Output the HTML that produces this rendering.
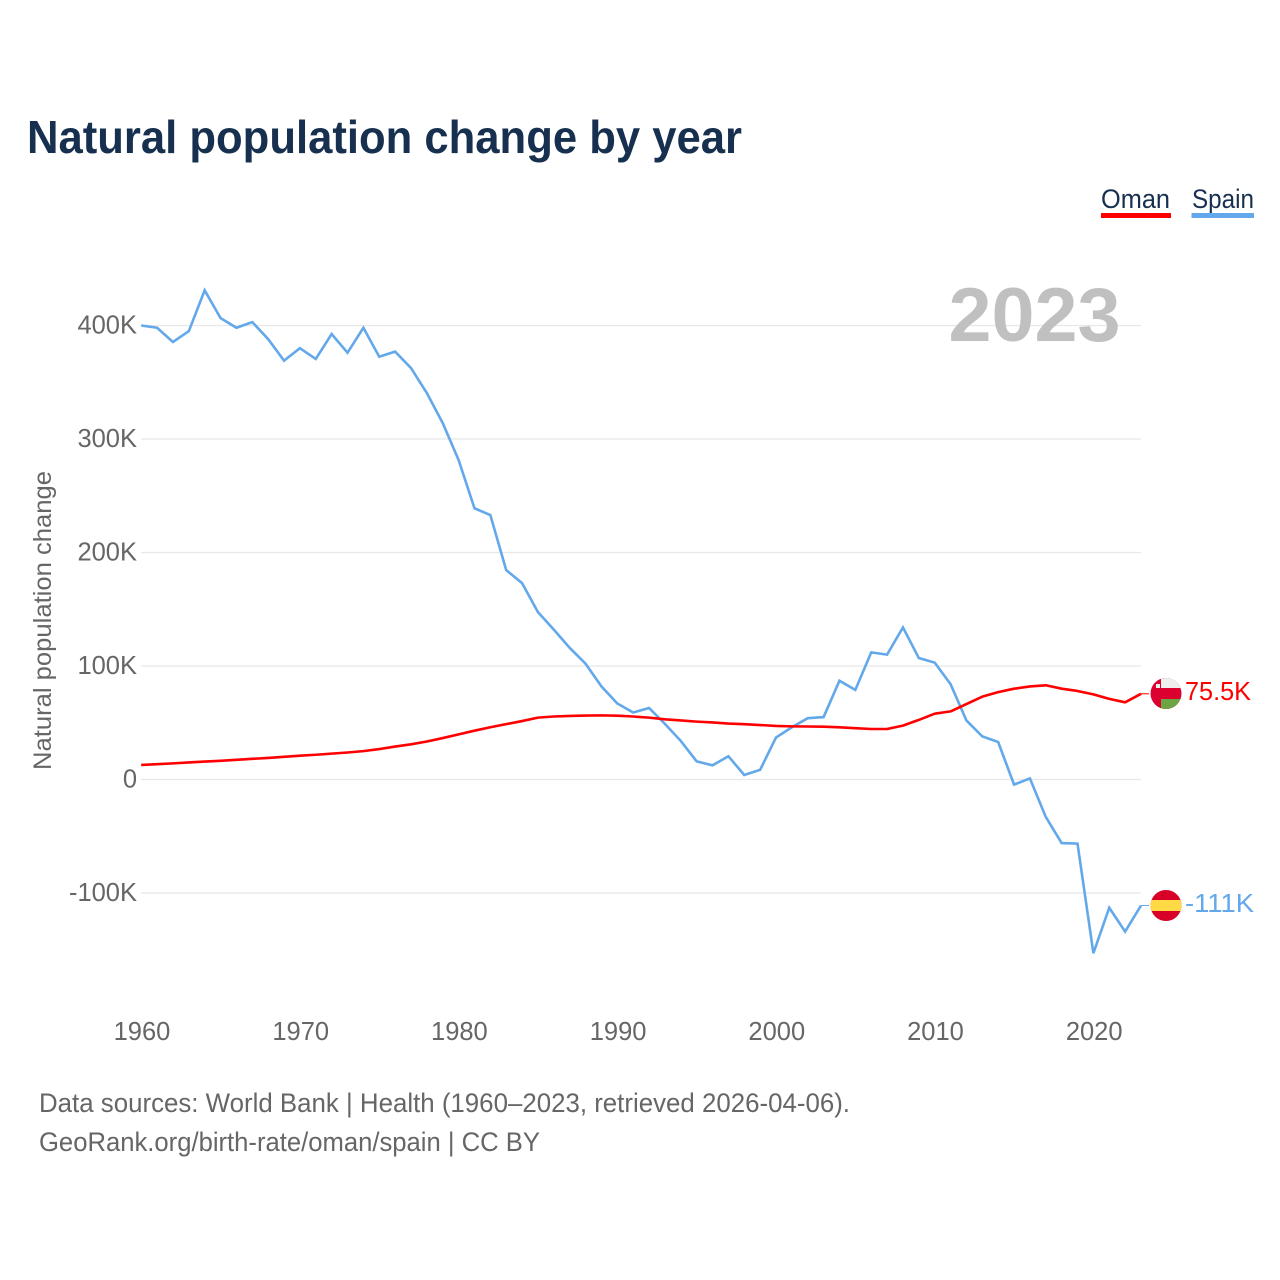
<!DOCTYPE html>
<html lang="en">
<head>
<meta charset="utf-8">
<title>Natural population change by year</title>
<style>
html,body{margin:0;padding:0;background:#fff;}
svg{display:block;font-family:"Liberation Sans",sans-serif;}
</style>
</head>
<body>
<svg id="chart" xmlns="http://www.w3.org/2000/svg" width="1280" height="1280" viewBox="0 0 1280 1280">
  <rect width="1280" height="1280" fill="#fff"/>
  <text x="27" y="153" font-size="46" font-weight="700" fill="#17304f" textLength="715" lengthAdjust="spacingAndGlyphs">Natural population change by year</text>
  <g>
    <g>
      <text x="1101" y="208" font-size="27" fill="#17304f" textLength="69" lengthAdjust="spacingAndGlyphs">Oman</text>
      <rect x="1101" y="213" width="70" height="5" fill="#ff0000"/>
    </g>
    <g>
      <text x="1192" y="208" font-size="27" fill="#17304f" textLength="62" lengthAdjust="spacingAndGlyphs">Spain</text>
      <rect x="1191.500" y="213" width="62.500" height="5" fill="#62a8ea"/>
    </g>
  </g>
  <text transform="translate(51,770) rotate(-90)" font-size="25" fill="#666" textLength="299" lengthAdjust="spacingAndGlyphs">Natural population change</text>
  <g id="grid"></g>
  <g id="yticks"></g>
  <g id="xticks"></g>
  <text x="948.500" y="341" font-size="76" font-weight="700" fill="#c0c0c0" textLength="172" lengthAdjust="spacingAndGlyphs">2023</text>
  <g id="series"></g>
  <defs>
    <clipPath id="flag-clip-oman"><circle cx="1166" cy="693.500" r="15.500"/></clipPath>
    <clipPath id="flag-clip-spain"><circle cx="1166" cy="905.500" r="15.500"/></clipPath>
  </defs>
  <g clip-path="url(#flag-clip-oman)">
    <rect x="1150" y="678" width="32" height="31" fill="#db0030"/>
    <rect x="1161" y="678" width="21" height="10" fill="#eeeeee"/>
    <rect x="1161" y="699" width="21" height="10" fill="#6da544"/>
    <rect x="1156" y="684" width="4" height="4" fill="#f0f0f0"/>
  </g>
  <g clip-path="url(#flag-clip-spain)">
    <rect x="1150" y="890" width="32" height="31" fill="#d80027"/>
    <rect x="1150" y="900" width="32" height="11" fill="#ffda44"/>
  </g>
  <text x="1185" y="700" font-size="25.500" fill="#ff0000" textLength="66" lengthAdjust="spacingAndGlyphs">75.5K</text>
  <text x="1185" y="912" font-size="25.500" fill="#62a8ea" textLength="69" lengthAdjust="spacingAndGlyphs">-111K</text>
  <text x="39" y="1112" font-size="27" fill="#666" textLength="811" lengthAdjust="spacingAndGlyphs">Data sources: World Bank | Health (1960–2023, retrieved 2026-04-06).</text>
  <text x="39" y="1151" font-size="27" fill="#666" textLength="501" lengthAdjust="spacingAndGlyphs">GeoRank.org/birth-rate/oman/spain | CC BY</text>
</svg>
<script>
const startYear = 1960;
const spainValues = [400,398,385.5,395,431,406.5,398,403,388,369,380,370.5,392.5,376,398,372.5,377,362.5,340.5,314,281.5,239,233,184.5,173,147.5,132,116,102,82,67,59,63,49,34,16,12.5,20.5,4,8.5,37,46,54,55,87,79,112,110,134,107,103,84,52,38,33,-4.5,1,-33,-56,-56.5,-153,-113,-134,-111];
const omanValues = [12.8,13.5,14.2,15,15.8,16.5,17.3,18.2,19,20,21,21.8,22.8,23.8,25,26.8,29,31,33.5,36.5,39.8,43,46,48.8,51.5,54.5,55.5,56,56.3,56.5,56.2,55.5,54.5,53,52,51,50.3,49.3,48.7,48,47.2,46.8,46.7,46.5,46,45.2,44.5,44.5,47.5,52.5,58,60,66.5,73,77,80,82,83,80,78,75,71,68,75.5];
const yTickValues = [400,300,200,100,0,-100];
const yTickLabels = ['400K','300K','200K','100K','0','-100K'];
const xTickYears = [1960,1970,1980,1990,2000,2010,2020];

const NS = 'http://www.w3.org/2000/svg';
function xScale(year){ return 141.2 + (year - startYear) * (1141 - 141.2) / 63; }
function yScale(v){ return 779.500 - v * 1.135; }

const grid = document.getElementById('grid');
const yticks = document.getElementById('yticks');
const xticks = document.getElementById('xticks');
const series = document.getElementById('series');

yTickValues.forEach(function(v,i){
  const line = document.createElementNS(NS,'line');
  
  
  line.setAttribute('x1', 141);
  line.setAttribute('x2', 1141);
  line.setAttribute('y1', yScale(v));
  line.setAttribute('y2', yScale(v));
  line.setAttribute('stroke', '#e8e8e8');
  line.setAttribute('stroke-width', 1.300);
  grid.appendChild(line);

  const label = document.createElementNS(NS,'text');
  
  
  label.setAttribute('x', 137);
  label.setAttribute('y', yScale(v) + 8);
  label.setAttribute('text-anchor', 'end');
  label.setAttribute('font-size', 25.500);
  label.setAttribute('fill', '#666');
  label.textContent = yTickLabels[i];
  yticks.appendChild(label);
});

xTickYears.forEach(function(y){
  const label = document.createElementNS(NS,'text');
  
  
  label.setAttribute('x', xScale(y) + 0.8);
  label.setAttribute('y', 1040);
  label.setAttribute('text-anchor', 'middle');
  label.setAttribute('font-size', 25.500);
  label.setAttribute('fill', '#666');
  label.textContent = String(y);
  xticks.appendChild(label);
});

function pathFor(values){
  return values.map(function(v,i){
    return (i ? 'L' : 'M') + xScale(startYear + i).toFixed(2) + ' ' + yScale(v).toFixed(2);
  }).join('');
}

const spainLine = document.createElementNS(NS,'path');


spainLine.setAttribute('d', pathFor(spainValues));
spainLine.setAttribute('fill', 'none');
spainLine.setAttribute('stroke', '#62a8ea');
spainLine.setAttribute('stroke-width', 2.600);
spainLine.setAttribute('stroke-linejoin', 'miter');
series.appendChild(spainLine);

const omanLine = document.createElementNS(NS,'path');


omanLine.setAttribute('d', pathFor(omanValues));
omanLine.setAttribute('fill', 'none');
omanLine.setAttribute('stroke', '#ff0000');
omanLine.setAttribute('stroke-width', 2.600);
omanLine.setAttribute('stroke-linejoin', 'round');
series.appendChild(omanLine);

const omanLeader = document.createElementNS(NS,'line');


omanLeader.setAttribute('x1', xScale(2023));
omanLeader.setAttribute('x2', 1149);
omanLeader.setAttribute('y1', yScale(omanValues[omanValues.length-1]));
omanLeader.setAttribute('y2', yScale(omanValues[omanValues.length-1]));
omanLeader.setAttribute('stroke', '#ff0000');
omanLeader.setAttribute('stroke-width', 1);
series.appendChild(omanLeader);

const spainLeader = document.createElementNS(NS,'line');


spainLeader.setAttribute('x1', xScale(2023));
spainLeader.setAttribute('x2', 1149);
spainLeader.setAttribute('y1', yScale(spainValues[spainValues.length-1]));
spainLeader.setAttribute('y2', yScale(spainValues[spainValues.length-1]));
spainLeader.setAttribute('stroke', '#62a8ea');
spainLeader.setAttribute('stroke-width', 1);
series.appendChild(spainLeader);
</script>
</body>
</html>
